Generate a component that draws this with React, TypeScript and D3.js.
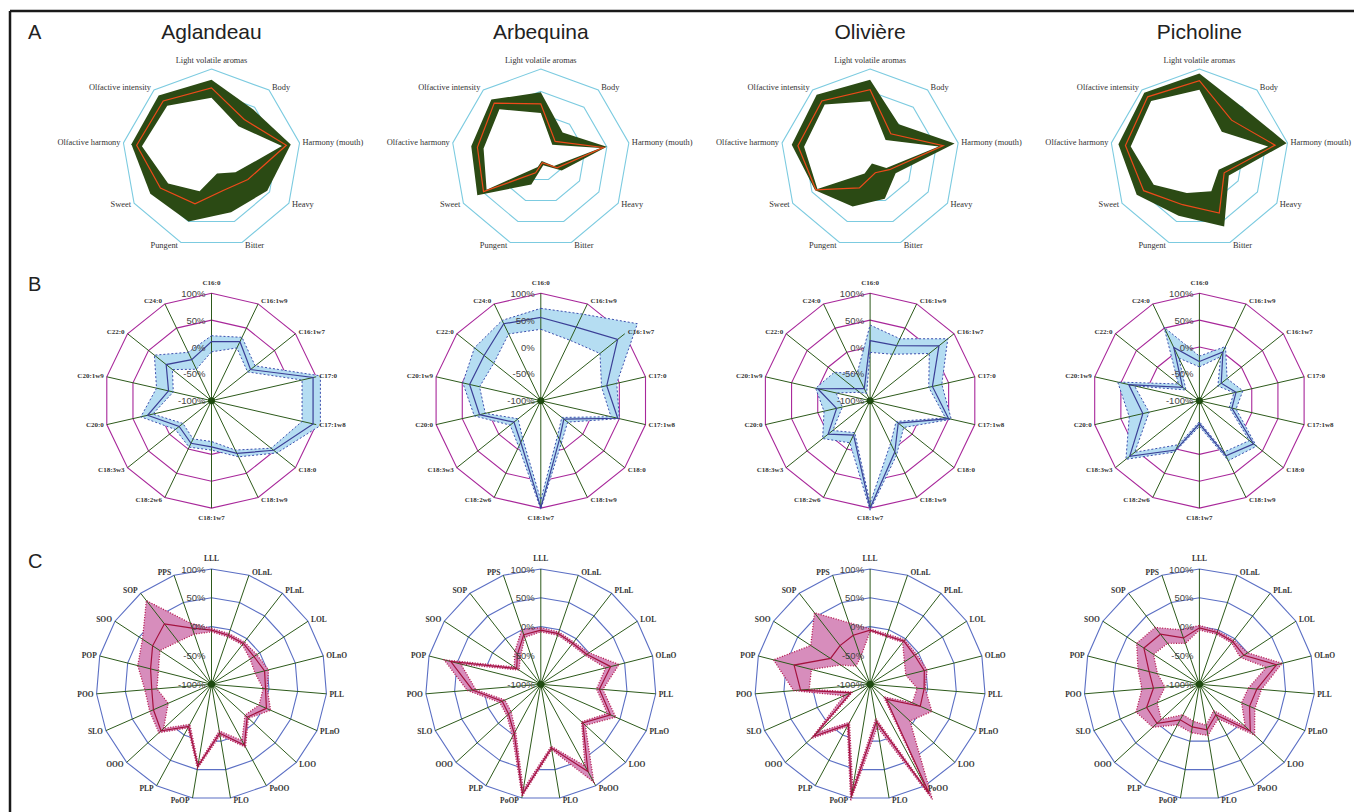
import React from "react";
import * as d3 from "d3";

// ---------- categories ----------
const cultivars = ["Aglandeau", "Arbequina", "Olivière", "Picholine"];
const panelLetters = ["A", "B", "C"];

const sensoryAxes = [
  "Light volatile aromas", "Body", "Harmony (mouth)", "Heavy", "Bitter",
  "Pungent", "Sweet", "Olfactive harmony", "Olfactive intensity",
];
const fattyAcids = [
  "C16:0", "C16:1w9", "C16:1w7", "C17:0", "C17:1w8", "C18:0", "C18:1w9",
  "C18:1w7", "C18:2w6", "C18:3w3", "C20:0", "C20:1w9", "C22:0", "C24:0",
];
const triglycerides = [
  "LLL", "OLnL", "PLnL", "LOL", "OLnO", "PLL", "PLnO", "LOO", "PoOO", "PLO",
  "PoOP", "PLP", "OOO", "SLO", "POO", "POP", "SOO", "SOP", "PPS",
];

const sensoryRings = [2.5, 5, 7.5, 10];
const pctRings = [-50, 0, 50, 100];
const pctTicks = [100, 50, 0, -50, -100];
const pctTickLabels = ["100%", "50%", "0%", "-50%", "-100%"];

// ---------- A: sensory profiles (0-10) ----------
const sensMeanAglandeau = [7.9, 5.7, 8.5, 4.7, 3.8, 5.4, 6.6, 8.5, 8.4];
const sensMaxAglandeau = [8.8, 7.2, 9.0, 7.2, 6.4, 7.5, 7.9, 9.1, 9.2];
const sensMinAglandeau = [6.8, 4.7, 8.0, 3.1, 1.8, 3.9, 5.6, 7.9, 7.7];

const sensMeanArbequina = [6.1, 2.5, 7.1, 2.1, 0.5, 1.7, 7.4, 7.2, 8.1];
const sensMaxArbequina = [7.4, 3.8, 7.5, 2.7, 0.8, 3.1, 8.2, 7.9, 8.6];
const sensMinArbequina = [5.1, 2.0, 6.8, 1.7, 0.3, 1.0, 7.0, 6.5, 7.2];

const sensMeanOliviere = [7.7, 3.6, 8.3, 2.5, 1.7, 3.5, 7.0, 8.2, 8.4];
const sensMaxOliviere = [8.8, 5.0, 9.6, 3.3, 4.8, 5.7, 7.1, 8.9, 9.3];
const sensMinOliviere = [6.4, 2.7, 7.8, 2.1, 0.6, 1.8, 6.8, 7.5, 7.9];

const sensMeanPicholine = [8.7, 5.6, 8.6, 3.2, 6.5, 5.5, 7.2, 8.4, 9.0];
const sensMaxPicholine = [9.5, 7.5, 9.9, 3.8, 8.1, 6.8, 8.1, 9.2, 9.6];
const sensMinPicholine = [7.7, 3.9, 7.8, 2.5, 3.9, 4.1, 5.9, 7.8, 8.4];

// ---------- B: fatty acids (%) ----------
const faMeanAglandeau = [10, 22, -7, 94, 94, 48, 9, -14, -12, -23, 22, -18, 8, -15];
const faUpAglandeau = [21, 31, 4, 108, 108, 56, 16, -8, -4, -14, 35, 5, 36, 0];
const faLowAglandeau = [-9, 9, -14, 73, 73, 42, 2, -24, -21, -32, 12, -27, -7, -35];

const faMeanArbequina = [55, 52, 83, 26, 47, -45, -20, 99, -14, -36, 17, 36, 35, 59];
const faUpArbequina = [72, 79, 130, 45, 50, -36, -12, 102, -5, -27, 27, 49, 58, 66];
const faLowArbequina = [33, 25, 41, 16, 34, -50, -28, 85, -22, -46, 6, 17, 12, 38];

const faMeanOliviere = [12, 14, 64, 19, 50, -33, 6, 100, -29, 0, -36, 0, -64, -75];
const faUpOliviere = [41, 28, 85, 37, 55, -20, 13, 104, -13, 13, -12, 4, -15, -44];
const faLowOliviere = [-10, -4, 41, 12, 44, -38, -12, 91, -34, -11, -47, -35, -75, -85];

const faMeanPicholine = [-27, 1, -48, -30, -38, 29, 14, -57, 2, 66, 8, 35, -60, 10];
const faUpPicholine = [-17, 12, -34, -17, -30, 36, 24, -52, 6, 75, 34, 56, -50, 52];
const faLowPicholine = [-37, -9, -56, -34, -43, 19, 6, -61, -9, 54, -4, 24, -68, -12];

// ---------- C: triglycerides (%) ----------
const tgMeanAglandeau = [-6, -10, -10, -12, -5, -6, 4, -16, 20, -14, 44, -17, 19, 10, 4, 9, 22, 33, 3];
const tgUpAglandeau = [-3, -7, -7, -6, 2, -3, 12, -13, 24, -10, 48, -14, 24, 17, 16, 32, 43, 84, 12];
const tgLowAglandeau = [-9, -13, -13, -20, -22, -10, -10, -21, 11, -18, 40, -21, 13, -18, -5, -5, 7, -6, -8];

const tgMeanArbequina = [-6, -7, -10, -5, 25, 2, 32, -1, 72, 12, 93, -3, -24, -27, 19, 61, -50, -34, -9];
const tgUpArbequina = [-2, -4, -7, 0, 40, 8, 42, 5, 93, 15, 97, 3, -20, -22, 28, 73, -45, -27, 1];
const tgLowArbequina = [-9, -10, -13, -8, 16, -3, 26, -4, 61, 9, 85, -8, -30, -32, 13, 43, -55, -42, -14];

const tgMeanOliviere = [-6, -11, -5, -8, -3, -6, -5, -62, 116, -34, 96, -21, 33, -63, 21, 36, -18, -15, -10];
const tgUpOliviere = [-4, -8, -2, -4, 2, -4, 17, -6, 127, -25, 105, -17, 39, -51, 33, 73, 23, 57, 13];
const tgLowOliviere = [-8, -13, -8, -29, -36, -18, -20, -68, 109, -40, 83, -25, 23, -67, 6, 5, -39, -60, -50];

const tgMeanPicholine = [-2, -5, -6, -8, 38, 0, -5, 20, -40, -20, -25, -30, 0, 0, -20, -10, 15, 10, -15];
const tgUpPicholine = [2, -2, -3, 0, 48, 8, 5, 30, -32, -10, -15, -20, 10, 20, 0, 10, 30, 25, 0];
const tgLowPicholine = [-6, -8, -9, -15, 20, -15, -20, 8, -48, -28, -35, -40, -10, -20, -40, -25, -5, -10, -25];

const sensMean = [sensMeanAglandeau, sensMeanArbequina, sensMeanOliviere, sensMeanPicholine];
const sensMax = [sensMaxAglandeau, sensMaxArbequina, sensMaxOliviere, sensMaxPicholine];
const sensMin = [sensMinAglandeau, sensMinArbequina, sensMinOliviere, sensMinPicholine];
const faMean = [faMeanAglandeau, faMeanArbequina, faMeanOliviere, faMeanPicholine];
const faUp = [faUpAglandeau, faUpArbequina, faUpOliviere, faUpPicholine];
const faLow = [faLowAglandeau, faLowArbequina, faLowOliviere, faLowPicholine];
const tgMean = [tgMeanAglandeau, tgMeanArbequina, tgMeanOliviere, tgMeanPicholine];
const tgUp = [tgUpAglandeau, tgUpArbequina, tgUpOliviere, tgUpPicholine];
const tgLow = [tgLowAglandeau, tgLowArbequina, tgLowOliviere, tgLowPicholine];

// ---------- layout ----------
const W = 1354;
const H = 812;
const colX = (i: number) => 211.5 + 329.3 * i;
const rowA = { cy: 158.5, R: 89.4 };
const rowB = { cy: 400.7, R: 107.4 };
const rowC = { cy: 684.3, R: 115.3 };
const TAU = Math.PI * 2;

function axisLabel(a: number, vx: number, vy: number, topOff: number) {
  const s = Math.sin(a);
  const c = Math.cos(a);
  if (Math.abs(s) < 0.05) {
    return { x: vx, y: vy + (c > 0 ? -topOff : topOff), anchor: "middle" as const };
  }
  return { x: vx + (s > 0 ? 3 : -3), y: vy - c * 3, anchor: s > 0 ? ("start" as const) : ("end" as const) };
}

function SensoryRadar({ cx, mean, max, min }: { cx: number; mean: number[]; max: number[]; min: number[] }) {
  const { cy, R } = rowA;
  const n = sensoryAxes.length;
  const r = d3.scaleLinear().domain([0, 10]).range([0, R]);
  const ang = (i: number) => (i * TAU) / n;
  const line = d3
    .lineRadial<number>()
    .angle((_, i) => ang(i))
    .radius((d) => r(d))
    .curve(d3.curveLinearClosed);
  return (
    <g transform={`translate(${cx},${cy})`}>
      {sensoryRings.map((k) => (
        <path key={k} d={line(new Array(n).fill(k)) || ""} fill="none" stroke="#7ccbe0" strokeWidth={1.1} />
      ))}
      <path d={line(max) || ""} fill="#2b4a14" stroke="none" />
      <path d={line(min) || ""} fill="#ffffff" stroke="none" />
      <path d={line(mean) || ""} fill="none" stroke="#ee4a1a" strokeWidth={1.2} />
      {sensoryAxes.map((name, i) => {
        const a = ang(i);
        const vx = Math.sin(a) * r(10);
        const vy = -Math.cos(a) * r(10);
        const p = axisLabel(a, vx, vy, 9);
        return (
          <text key={name} x={p.x} y={p.y} textAnchor={p.anchor} dominantBaseline="central"
            fontFamily="'Liberation Serif', 'DejaVu Serif', serif" fontSize={8.4} fill="#333">
            {name}
          </text>
        );
      })}
    </g>
  );
}

type PctProps = {
  cx: number;
  cy: number;
  R: number;
  axes: string[];
  mean: number[];
  up: number[];
  low: number[];
  ringColor: string;
  fillColor: string;
  meanColor: string;
  boundColor: string;
  boundDash: string;
  boundWidth: number;
  labelSize: number;
  topOff: number;
};

function PctRadar(p: PctProps) {
  const n = p.axes.length;
  const r = d3.scaleLinear().domain([-100, 100]).range([0, p.R]);
  const ang = (i: number) => (i * TAU) / n;
  const line = d3
    .lineRadial<number>()
    .angle((_, i) => ang(i))
    .radius((d) => r(d))
    .curve(d3.curveLinearClosed);
  return (
    <g transform={`translate(${p.cx},${p.cy})`}>
      {pctRings.map((k) => (
        <path key={k} d={line(new Array(n).fill(k)) || ""} fill="none" stroke={p.ringColor} strokeWidth={1.1} />
      ))}
      <path d={line(p.up) || ""} fill={p.fillColor} stroke="none" />
      <path d={line(p.low) || ""} fill="#ffffff" stroke="none" />
      {p.axes.map((name, i) => {
        const a = ang(i);
        return (
          <line key={name} x1={0} y1={0} x2={Math.sin(a) * r(100)} y2={-Math.cos(a) * r(100)}
            stroke="#2d5a1b" strokeWidth={1} />
        );
      })}
      <path d={line(p.up) || ""} fill="none" stroke={p.boundColor} strokeWidth={p.boundWidth} strokeDasharray={p.boundDash} />
      <path d={line(p.low) || ""} fill="none" stroke={p.boundColor} strokeWidth={p.boundWidth} strokeDasharray={p.boundDash} />
      <path d={line(p.mean) || ""} fill="none" stroke={p.meanColor} strokeWidth={1.2} />
      <circle cx={0} cy={0} r={3.5} fill="#1e4a10" />
      {pctTicks.map((t, i) => (
        <text key={t} x={-6} y={-r(t)} textAnchor="end" dominantBaseline="central"
          fontFamily="'Liberation Sans', Arial, sans-serif" fontSize={9.5} fill="#444">
          {pctTickLabels[i]}
        </text>
      ))}
      {p.axes.map((name, i) => {
        const a = ang(i);
        const vx = Math.sin(a) * r(100);
        const vy = -Math.cos(a) * r(100);
        const q = axisLabel(a, vx, vy, p.topOff);
        return (
          <text key={"l" + name} x={q.x} y={q.y} textAnchor={q.anchor} dominantBaseline="central"
            fontFamily="'Liberation Serif', 'DejaVu Serif', serif" fontWeight="bold" fontSize={p.labelSize} fill="#333">
            {name}
          </text>
        );
      })}
    </g>
  );
}

export default function App() {
  return (
    <svg width={W} height={H} style={{ position: "absolute", left: 0, top: 0, background: "#fff" }}>
      <rect x={0} y={0} width={W} height={H} fill="#fff" />
      <line x1={10} y1={11} x2={W} y2={11} stroke="#1a1a1a" strokeWidth={2.5} />
      <line x1={10} y1={11} x2={10} y2={H} stroke="#1a1a1a" strokeWidth={2.5} />
      {panelLetters.map((L, i) => (
        <text key={L} x={28} y={[39, 291, 568][i]} fontFamily="'Liberation Sans', Arial, sans-serif"
          fontSize={20} fill="#222">
          {L}
        </text>
      ))}
      {cultivars.map((c, i) => (
        <text key={c} x={colX(i)} y={39} textAnchor="middle" fontFamily="'Liberation Sans', Arial, sans-serif"
          fontSize={21} fill="#222">
          {c}
        </text>
      ))}
      {cultivars.map((c, i) => (
        <SensoryRadar key={"a" + c} cx={colX(i)} mean={sensMean[i]} max={sensMax[i]} min={sensMin[i]} />
      ))}
      {cultivars.map((c, i) => (
        <PctRadar key={"b" + c} cx={colX(i)} cy={rowB.cy} R={rowB.R} axes={fattyAcids}
          mean={faMean[i]} up={faUp[i]} low={faLow[i]}
          ringColor="#a8279a" fillColor="#b5ddf2" meanColor="#3b3f96" boundColor="#3d4fae"
          boundDash="2,2" boundWidth={1} labelSize={7} topOff={10} />
      ))}
      {cultivars.map((c, i) => (
        <PctRadar key={"c" + c} cx={colX(i)} cy={rowC.cy} R={rowC.R} axes={triglycerides}
          mean={tgMean[i]} up={tgUp[i]} low={tgLow[i]}
          ringColor="#5b6fc4" fillColor="#d78dbc" meanColor="#a3123e" boundColor="#b3174c"
          boundDash="1,1.6" boundWidth={1.3} labelSize={7.5} topOff={11} />
      ))}
    </svg>
  );
}
